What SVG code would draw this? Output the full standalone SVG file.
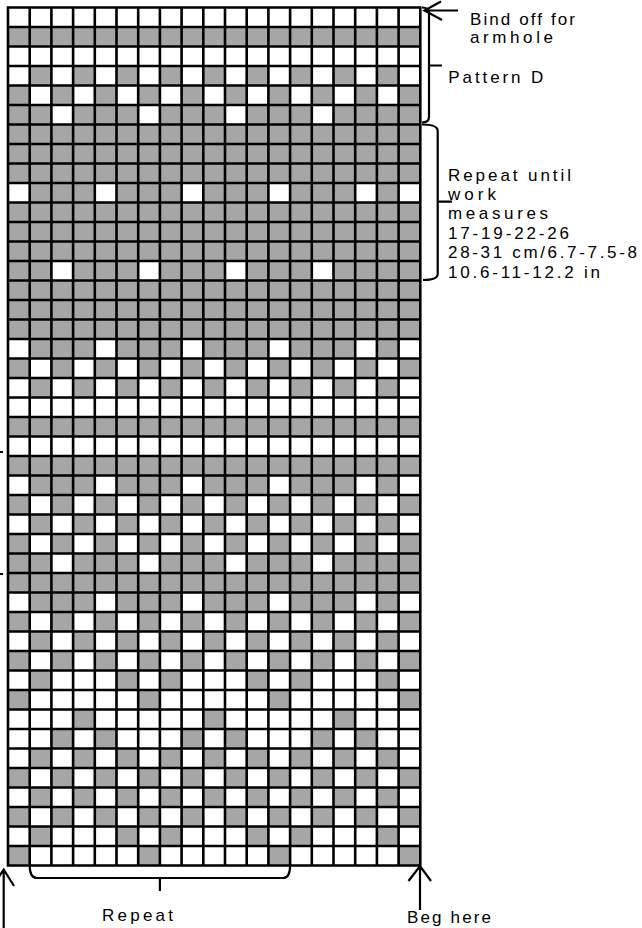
<svg xmlns="http://www.w3.org/2000/svg" width="642" height="928" viewBox="0 0 642 928">
<style>
.g{fill:#a6a6a6}
.w{fill:#fff}
.grid{fill:none;stroke:#000;stroke-width:2.6}
.ln{fill:none;stroke:#000;stroke-width:2.2}
.t{font-family:"Liberation Sans",Arial,sans-serif;font-size:17px;fill:#000}
</style>
<defs>
<pattern id="po" patternUnits="userSpaceOnUse" x="8" y="0" width="43.4" height="20"><rect class="g" width="21.7" height="20"/></pattern>
<pattern id="pe" patternUnits="userSpaceOnUse" x="29.7" y="0" width="43.4" height="20"><rect class="g" width="21.7" height="20"/></pattern>
</defs>
<rect width="642" height="928" fill="#fff"/>
<g id="chart">
<rect x="8" y="7.5" width="412.3" height="858" fill="#fff"/>
<g id="grey-rows" class="g">
<rect x="8" y="27" width="412.3" height="19.5"/>
<rect x="8" y="105" width="412.3" height="253.5"/>
<rect x="8" y="417" width="412.3" height="19.5"/>
<rect x="8" y="456" width="412.3" height="39"/>
<rect x="8" y="553.5" width="412.3" height="58.5"/>
</g>
<g id="odd-rows" fill="url(#po)">
<rect x="8" y="85.5" width="412.3" height="19.5"/>
<rect x="8" y="358.5" width="412.3" height="19.5"/>
<rect x="8" y="495" width="412.3" height="19.5"/>
<rect x="8" y="534" width="412.3" height="19.5"/>
<rect x="8" y="612" width="412.3" height="19.5"/>
<rect x="8" y="651" width="412.3" height="19.5"/>
<rect x="8" y="768" width="412.3" height="19.5"/>
<rect x="8" y="807" width="412.3" height="19.5"/>
</g>
<g id="even-rows" fill="url(#pe)">
<rect x="8" y="66" width="412.3" height="19.5"/>
<rect x="8" y="378" width="412.3" height="19.5"/>
<rect x="8" y="514.5" width="412.3" height="19.5"/>
<rect x="8" y="631.5" width="412.3" height="19.5"/>
<rect x="8" y="748.5" width="412.3" height="19.5"/>
<rect x="8" y="787.5" width="412.3" height="19.5"/>
</g>
<g id="white-cells" class="w">
<rect x="51.4" y="105" width="21.7" height="19.5"/><rect x="138.2" y="105" width="21.7" height="19.5"/><rect x="225" y="105" width="21.7" height="19.5"/><rect x="311.8" y="105" width="21.7" height="19.5"/>
<rect x="51.4" y="261" width="21.7" height="19.5"/><rect x="138.2" y="261" width="21.7" height="19.5"/><rect x="225" y="261" width="21.7" height="19.5"/><rect x="311.8" y="261" width="21.7" height="19.5"/>
<rect x="51.4" y="553.5" width="21.7" height="19.5"/><rect x="138.2" y="553.5" width="21.7" height="19.5"/><rect x="225" y="553.5" width="21.7" height="19.5"/><rect x="311.8" y="553.5" width="21.7" height="19.5"/>
<rect x="8" y="183" width="21.7" height="19.5"/><rect x="94.8" y="183" width="21.7" height="19.5"/><rect x="181.6" y="183" width="21.7" height="19.5"/><rect x="268.4" y="183" width="21.7" height="19.5"/><rect x="355.2" y="183" width="21.7" height="19.5"/><rect x="398.6" y="183" width="21.7" height="19.5"/>
<rect x="8" y="339" width="21.7" height="19.5"/><rect x="94.8" y="339" width="21.7" height="19.5"/><rect x="181.6" y="339" width="21.7" height="19.5"/><rect x="268.4" y="339" width="21.7" height="19.5"/><rect x="355.2" y="339" width="21.7" height="19.5"/><rect x="398.6" y="339" width="21.7" height="19.5"/>
<rect x="8" y="475.5" width="21.7" height="19.5"/><rect x="94.8" y="475.5" width="21.7" height="19.5"/><rect x="181.6" y="475.5" width="21.7" height="19.5"/><rect x="268.4" y="475.5" width="21.7" height="19.5"/><rect x="355.2" y="475.5" width="21.7" height="19.5"/><rect x="398.6" y="475.5" width="21.7" height="19.5"/>
<rect x="8" y="592.5" width="21.7" height="19.5"/><rect x="94.8" y="592.5" width="21.7" height="19.5"/><rect x="181.6" y="592.5" width="21.7" height="19.5"/><rect x="268.4" y="592.5" width="21.7" height="19.5"/><rect x="355.2" y="592.5" width="21.7" height="19.5"/><rect x="398.6" y="592.5" width="21.7" height="19.5"/>
</g>
<g id="grey-cells" class="g">
<rect x="29.7" y="670.5" width="21.7" height="19.5"/><rect x="116.5" y="670.5" width="21.7" height="19.5"/><rect x="159.9" y="670.5" width="21.7" height="19.5"/><rect x="246.7" y="670.5" width="21.7" height="19.5"/><rect x="290.1" y="670.5" width="21.7" height="19.5"/><rect x="376.9" y="670.5" width="21.7" height="19.5"/>
<rect x="29.7" y="826.5" width="21.7" height="19.5"/><rect x="116.5" y="826.5" width="21.7" height="19.5"/><rect x="159.9" y="826.5" width="21.7" height="19.5"/><rect x="246.7" y="826.5" width="21.7" height="19.5"/><rect x="290.1" y="826.5" width="21.7" height="19.5"/><rect x="376.9" y="826.5" width="21.7" height="19.5"/>
<rect x="8" y="690" width="21.7" height="19.5"/><rect x="138.2" y="690" width="21.7" height="19.5"/><rect x="268.4" y="690" width="21.7" height="19.5"/><rect x="398.6" y="690" width="21.7" height="19.5"/>
<rect x="8" y="846" width="21.7" height="19.5"/><rect x="138.2" y="846" width="21.7" height="19.5"/><rect x="268.4" y="846" width="21.7" height="19.5"/><rect x="398.6" y="846" width="21.7" height="19.5"/>
<rect x="73.1" y="709.5" width="21.7" height="19.5"/><rect x="203.3" y="709.5" width="21.7" height="19.5"/><rect x="333.5" y="709.5" width="21.7" height="19.5"/>
<rect x="51.4" y="729" width="21.7" height="19.5"/><rect x="94.8" y="729" width="21.7" height="19.5"/><rect x="181.6" y="729" width="21.7" height="19.5"/><rect x="225" y="729" width="21.7" height="19.5"/><rect x="311.8" y="729" width="21.7" height="19.5"/><rect x="355.2" y="729" width="21.7" height="19.5"/>
</g>
<path class="grid" d="M8 6.2V866.8M29.7 6.2V866.8M51.4 6.2V866.8M73.1 6.2V866.8M94.8 6.2V866.8M116.5 6.2V866.8M138.2 6.2V866.8M159.9 6.2V866.8M181.6 6.2V866.8M203.3 6.2V866.8M225 6.2V866.8M246.7 6.2V866.8M268.4 6.2V866.8M290.1 6.2V866.8M311.8 6.2V866.8M333.5 6.2V866.8M355.2 6.2V866.8M376.9 6.2V866.8M398.6 6.2V866.8M420.3 6.2V866.8
M6.7 7.5H421.6M6.7 27H421.6M6.7 46.5H421.6M6.7 66H421.6M6.7 85.5H421.6M6.7 105H421.6M6.7 124.5H421.6M6.7 144H421.6M6.7 163.5H421.6M6.7 183H421.6M6.7 202.5H421.6M6.7 222H421.6M6.7 241.5H421.6M6.7 261H421.6M6.7 280.5H421.6M6.7 300H421.6M6.7 319.5H421.6M6.7 339H421.6M6.7 358.5H421.6M6.7 378H421.6M6.7 397.5H421.6M6.7 417H421.6M6.7 436.5H421.6M6.7 456H421.6M6.7 475.5H421.6M6.7 495H421.6M6.7 514.5H421.6M6.7 534H421.6M6.7 553.5H421.6M6.7 573H421.6M6.7 592.5H421.6M6.7 612H421.6M6.7 631.5H421.6M6.7 651H421.6M6.7 670.5H421.6M6.7 690H421.6M6.7 709.5H421.6M6.7 729H421.6M6.7 748.5H421.6M6.7 768H421.6M6.7 787.5H421.6M6.7 807H421.6M6.7 826.5H421.6M6.7 846H421.6M6.7 865.5H421.6"/>
</g>
<g id="connectors" class="ln">
<path id="arrow-bind-off" d="M458 10.5H425M441 1.5L424.5 10.5L442 20"/>
<path id="bracket-pattern-d" d="M422 7.5Q429 7.5 429 13V117Q429 122.5 422 122.5M429 65.5H442"/>
<path id="bracket-repeat-until" d="M422 124.5Q437.7 124.5 437.7 131V274Q437.7 280 423 280M437.7 201.7H452"/>
<path id="bracket-repeat" d="M29.7 865.5Q29.7 878 37 878H283Q290.1 878 290.1 865.5M159.9 878V891"/>
<path id="arrow-left" d="M3.7 928V870M-7 886L3.7 869.5L14 886"/>
<path id="arrow-beg" d="M420 910V866.5M408.5 881L420 866L431 881"/>
<path id="left-ticks" d="M0 452H3M0 574H3"/>
</g>
<g id="labels" class="t">
<text x="470" y="25" textLength="105" lengthAdjust="spacing">Bind off for</text>
<text x="470" y="43.3" textLength="83" lengthAdjust="spacing">armhole</text>
<text x="448.3" y="83.3" textLength="95" lengthAdjust="spacing">Pattern D</text>
<text x="448" y="180.5" textLength="123" lengthAdjust="spacing">Repeat until</text>
<text x="448" y="199.9" textLength="48" lengthAdjust="spacing">work</text>
<text x="448" y="219.3" textLength="100" lengthAdjust="spacing">measures</text>
<text x="448" y="238.7" textLength="121" lengthAdjust="spacing">17-19-22-26</text>
<text x="448" y="258.1" textLength="189" lengthAdjust="spacing">28-31 cm/6.7-7.5-8</text>
<text x="448" y="277.5" textLength="152" lengthAdjust="spacing">10.6-11-12.2 in</text>
<text x="102" y="921" textLength="71" lengthAdjust="spacing">Repeat</text>
<text x="407" y="922.5" textLength="84" lengthAdjust="spacing">Beg here</text>
</g>
</svg>
